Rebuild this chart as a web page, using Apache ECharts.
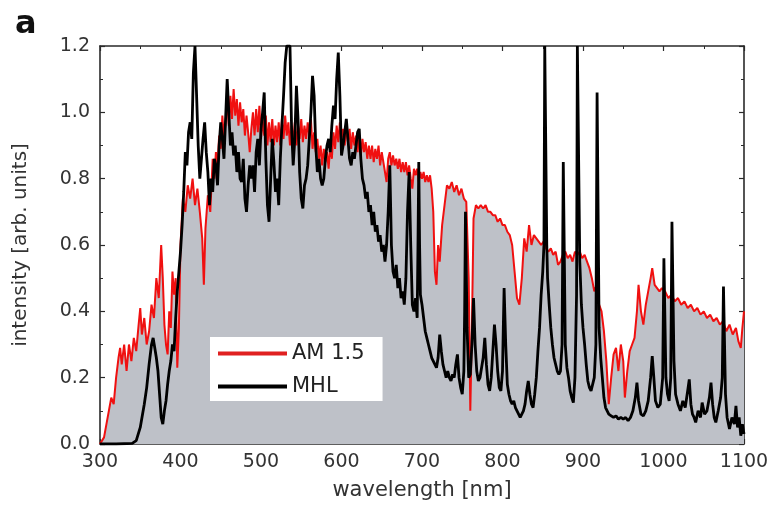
<!DOCTYPE html>
<html>
<head>
<meta charset="utf-8">
<script src="https://cdn.jsdelivr.net/npm/echarts@6/dist/echarts.min.js"></script>
<style>
html,body{margin:0;padding:0;background:#fff;}
#chart{width:774px;height:506px;}
</style>
</head>
<body>
<div id="chart"></div>
<script>
// AM 1.5 solar spectrum [wavelength nm, intensity]
const am15 = [[300,0],[305,0.02],[308,0.06],[311,0.1],[314,0.14],[317,0.12],[320,0.2],[323,0.26],[325,0.29],[327,0.24],[330,0.3],[333,0.22],[336,0.3],[339,0.25],[342,0.32],[345,0.28],[348,0.36],[350,0.41],[352,0.33],[355,0.38],[358,0.3],[361,0.34],[364,0.42],[367,0.38],[370,0.5],[373,0.44],[376,0.6],[378,0.5],[380,0.36],[382,0.3],[384,0.27],[386,0.4],[388,0.35],[390,0.52],[392,0.45],[394,0.5],[396,0.23],[398,0.35],[400,0.6],[403,0.74],[406,0.7],[409,0.78],[412,0.74],[415,0.8],[418,0.72],[421,0.77],[424,0.7],[427,0.62],[429,0.48],[431,0.65],[434,0.75],[437,0.7],
[440,0.86],[442,0.8],[444,0.88],[446,0.84],[448,0.93],[450,0.89],[452,0.99],[454,0.92],[456,0.97],[458,1.04],[460,0.96],[462,1.05],[464,0.98],[466,1.07],[468,0.99],[470,1.04],[472,0.96],[474,1.03],[476,0.97],[478,1.01],[480,0.93],[482,0.99],[484,0.94],[486,0.88],[488,0.95],[490,1.0],[492,0.93],[494,1.01],[496,0.94],[498,1.02],[500,0.92],[502,0.98],[504,0.93],[506,0.99],[508,0.9],[510,0.97],[512,0.91],[514,0.98],[516,0.9],[518,0.96],[520,0.91],[522,0.97],[524,0.9],[526,0.98],[528,0.92],[530,0.99],[532,0.93],[534,0.97],[536,0.9],[538,0.96],[540,0.91],[542,0.97],[544,0.9],[546,0.96],[548,0.92],[550,0.98],[552,0.91],[554,0.96],[556,0.92],[558,0.97],[560,0.93],[562,0.98],[564,0.89],[566,0.94],[568,0.88],[570,0.92],[572,0.86],[574,0.9],[576,0.84],[578,0.89],[580,0.85],[582,0.88],[584,0.83],[586,0.9],[588,0.86],[590,0.94],[592,0.89],[594,0.96],[596,0.91],[598,0.97],[600,0.92],[602,0.95],[604,0.9],[606,0.96],[608,0.91],[610,0.95],[612,0.89],[614,0.94],[616,0.9],[618,0.93],[620,0.88],[622,0.93],[624,0.87],[626,0.92],[628,0.88],[630,0.91],[632,0.86],[634,0.9],[636,0.86],[638,0.9],[640,0.85],[642,0.89],[644,0.86],[646,0.9],[648,0.84],[650,0.88],[652,0.85],[654,0.82],[656,0.79],[658,0.86],[660,0.88],[662,0.84],[664,0.87],[666,0.84],[668,0.86],[670,0.83],[672,0.86],[674,0.82],[676,0.85],[678,0.82],[680,0.85],[682,0.81],[684,0.84],[686,0.8],[688,0.77],[690,0.83],[692,0.81],[694,0.83],[696,0.79],[698,0.82],[700,0.8],[702,0.82],[704,0.79],[706,0.81],[708,0.79],[710,0.81],[712,0.77],[714,0.7],
[716,0.52],[718,0.48],[720,0.6],[722,0.55],[725,0.66],[728,0.72],[731,0.78],[734,0.77],[737,0.79],[740,0.76],[743,0.78],[746,0.75],[749,0.77],[752,0.74],[755,0.73],[758,0.5],[760,0.1],[762,0.35],[764,0.68],[767,0.72],[770,0.71],[773,0.72],[776,0.71],[779,0.72],[782,0.7],[785,0.7],[788,0.69],[791,0.69],[794,0.67],[797,0.68],[800,0.66],[803,0.66],[806,0.64],[809,0.63],[812,0.6],[815,0.52],[818,0.44],[821,0.42],[824,0.5],[827,0.62],[830,0.58],[833,0.66],[836,0.6],[839,0.63],[842,0.62],[845,0.61],[848,0.6],[851,0.61],[854,0.59],[857,0.58],[860,0.59],[863,0.57],[866,0.58],[869,0.54],[872,0.55],[875,0.57],[878,0.58],[881,0.56],[884,0.57],[887,0.55],[890,0.58],[893,0.57],[896,0.58],[899,0.56],[902,0.57],[905,0.55],[908,0.53],[911,0.5],[914,0.46],[917,0.48],[920,0.42],[923,0.4],[926,0.34],[929,0.25],[932,0.12],[935,0.2],[938,0.27],[941,0.29],[944,0.22],[947,0.3],[950,0.25],[952,0.14],[955,0.22],[958,0.28],[961,0.3],[964,0.32],[967,0.4],[969,0.48],[972,0.4],[975,0.36],[978,0.42],[981,0.46],[984,0.5],[986,0.53],[989,0.48],[992,0.47],[995,0.46],[998,0.47],[1002,0.46],[1006,0.44],[1010,0.45],[1014,0.43],[1018,0.44],[1022,0.42],[1026,0.43],[1030,0.41],[1034,0.42],[1038,0.4],[1042,0.41],[1046,0.39],[1050,0.4],[1054,0.38],[1058,0.39],[1062,0.37],[1066,0.38],[1070,0.36],[1074,0.37],[1078,0.34],[1082,0.36],[1086,0.33],[1090,0.35],[1093,0.31],[1096,0.29],[1098,0.35],[1100,0.4]];

// Metal halide lamp spectrum [wavelength nm, intensity]
const mhl = [[300,0],[320,0],[340,0.002],[345,0.01],[350,0.05],[355,0.12],[358,0.17],[361,0.24],[364,0.3],[366,0.32],[368,0.29],[370,0.26],[372,0.22],[374,0.15],[376,0.08],[378,0.06],[380,0.1],[382,0.13],[384,0.18],[386,0.22],[388,0.25],[390,0.3],[392,0.28],[394,0.38],[396,0.46],[398,0.52],[400,0.58],[402,0.66],[404,0.76],[406,0.88],[408,0.84],[410,0.94],[412,0.97],[414,0.92],[416,1.12],[418,1.2],[420,1.2],[422,0.9],[424,0.8],[426,0.86],[428,0.92],[430,0.97],[432,0.88],[434,0.82],[436,0.72],[438,0.8],[440,0.76],[442,0.86],[444,0.84],[446,0.78],[448,0.9],[450,0.97],[452,0.92],[454,0.86],[456,0.98],[458,1.1],[460,1.0],[462,0.9],[464,0.94],[466,0.87],[468,0.9],[470,0.82],[472,0.88],[474,0.8],[476,0.79],[478,0.86],[480,0.74],[482,0.7],[484,0.78],[486,0.84],[488,0.8],[490,0.84],[492,0.76],[494,0.88],[496,0.92],[498,0.84],[500,0.95],[502,1.0],[504,1.06],[506,0.86],[508,0.72],[510,0.67],[512,0.8],[514,0.92],[516,0.85],[518,0.76],[520,0.8],[522,0.72],[524,0.86],[526,0.96],[528,1.05],[530,1.15],[532,1.2],[534,1.2],[536,1.2],[538,0.95],[540,0.84],[542,0.92],[544,1.08],[546,0.98],[548,0.82],[550,0.74],[552,0.71],[554,0.78],[556,0.8],[558,0.84],[560,0.92],[562,1.0],[564,1.11],[566,1.05],[568,0.9],[570,0.82],[572,0.86],[574,0.8],[576,0.78],[578,0.8],[580,0.86],[582,0.9],[584,0.92],[586,0.88],[588,0.96],[590,1.02],[592,0.98],[594,1.1],[596,1.18],[598,1.05],[600,0.87],[602,0.9],[604,0.94],[606,0.98],[608,0.92],[610,0.86],[612,0.84],[614,0.88],[616,0.86],[618,0.9],[620,0.94],[622,0.95],[624,0.86],[626,0.8],[628,0.78],[630,0.74],[632,0.76],[634,0.7],[636,0.72],[638,0.66],[640,0.7],[642,0.64],[644,0.66],[646,0.61],[648,0.63],[650,0.58],[652,0.6],[654,0.55],[656,0.6],[658,0.7],[660,0.84],[662,0.6],[664,0.52],[666,0.5],[668,0.54],[670,0.47],[672,0.5],[674,0.44],[676,0.46],[678,0.42],[680,0.5],[682,0.7],[684,0.82],[686,0.6],[688,0.42],[690,0.4],[692,0.44],[694,0.38],[695,0.6],[696,0.85],[697,0.6],[698,0.45],[700,0.42],[702,0.38],[704,0.34],[706,0.32],[708,0.3],[710,0.28],[712,0.26],[714,0.25],[716,0.24],[718,0.23],[720,0.26],[722,0.33],[724,0.28],[726,0.24],[728,0.22],[730,0.2],[732,0.22],[734,0.2],[736,0.19],[738,0.21],[740,0.2],[742,0.24],[744,0.27],[746,0.2],[748,0.17],[750,0.15],[752,0.22],[753,0.4],[754,0.7],[755,0.7],[756,0.35],[758,0.2],[760,0.21],[762,0.3],[764,0.44],[766,0.3],[768,0.22],[770,0.19],[772,0.2],[774,0.23],[776,0.26],[778,0.32],[780,0.24],[782,0.18],[784,0.16],[786,0.2],[788,0.28],[790,0.36],[792,0.3],[794,0.22],[796,0.17],[798,0.16],[800,0.22],[801,0.35],[802,0.47],[803,0.47],[804,0.3],[806,0.18],[808,0.15],[810,0.13],[812,0.12],[814,0.13],[816,0.11],[818,0.1],[820,0.09],[822,0.08],[824,0.085],[826,0.1],[828,0.12],[830,0.16],[832,0.19],[834,0.15],[836,0.12],[838,0.11],[840,0.15],[842,0.2],[844,0.28],[846,0.35],[848,0.45],[850,0.52],[851.5,0.6],[852.5,1.2],[854,1.2],[855,0.6],[856,0.5],[858,0.42],[860,0.35],[862,0.3],[864,0.26],[866,0.24],[868,0.22],[870,0.21],[872,0.22],[874,0.3],[875.5,0.85],[876.5,0.85],[878,0.3],[880,0.23],[882,0.2],[884,0.16],[886,0.14],[888,0.125],[890,0.2],[892,0.45],[893,1.2],[895,1.2],[896,0.55],[898,0.42],[900,0.35],[902,0.3],[904,0.24],[906,0.19],[908,0.17],[910,0.16],[912,0.155],[914,0.2],[916,0.3],[917.5,1.06],[918.5,1.06],[920,0.35],[922,0.26],[924,0.2],[926,0.14],[928,0.11],[930,0.1],[932,0.09],[935,0.085],[938,0.08],[941,0.085],[944,0.075],[947,0.08],[950,0.075],[953,0.08],[956,0.07],[959,0.08],[962,0.1],[965,0.14],[967,0.185],[969,0.13],[972,0.09],[975,0.085],[978,0.1],[981,0.13],[984,0.2],[986,0.265],[988,0.2],[990,0.13],[993,0.11],[996,0.12],[999,0.2],[1000.5,0.56],[1001.5,0.56],[1003,0.2],[1005,0.15],[1007,0.13],[1009,0.2],[1010.5,0.67],[1011.5,0.67],[1013,0.25],[1015,0.15],[1018,0.12],[1021,0.1],[1024,0.13],[1027,0.11],[1030,0.16],[1032,0.195],[1034,0.12],[1036,0.09],[1038,0.08],[1040,0.065],[1043,0.1],[1046,0.08],[1048,0.125],[1051,0.09],[1054,0.1],[1057,0.14],[1059,0.185],[1061,0.12],[1063,0.08],[1065,0.065],[1068,0.1],[1071,0.14],[1073,0.2],[1074.5,0.475],[1075.5,0.475],[1077,0.15],[1079,0.08],[1082,0.045],[1085,0.08],[1088,0.06],[1090,0.115],[1092,0.05],[1094,0.08],[1096,0.025],[1098,0.06],[1100,0.03]];

const seriesNames = ['AM 1.5', 'MHL'];
const xRange = [300, 1100];
const yRange = [0, 1.2];

const FONT = 'DejaVu Sans';
const axisLineStyle = { color: '#2a2a2a', width: 1.6 };
function xAx(pos, labels) {
  return {
    type: 'value', position: pos, min: xRange[0], max: xRange[1], interval: 100,
    axisLine: { show: true, onZero: false, lineStyle: axisLineStyle },
    axisTick: { show: true, inside: true, length: 5, lineStyle: { color: '#2a2a2a', width: 1.2 } },
    minorTick: { show: true, splitNumber: 2, length: 3, lineStyle: { color: '#2a2a2a', width: 1 } },
    splitLine: { show: false },
    axisLabel: { show: labels, fontFamily: FONT, fontSize: 19, color: '#333', margin: 9,
      formatter: v => String(v) },
    name: labels ? 'wavelength [nm]' : '', nameLocation: 'middle', nameGap: 36,
    nameTextStyle: { fontFamily: FONT, fontSize: 21, color: '#333' }
  };
}
function yAx(pos, labels) {
  return {
    type: 'value', position: pos, min: yRange[0], max: yRange[1], interval: 0.2,
    axisLine: { show: true, onZero: false, lineStyle: axisLineStyle },
    axisTick: { show: true, inside: true, length: 5, lineStyle: { color: '#2a2a2a', width: 1.2 } },
    minorTick: { show: true, splitNumber: 2, length: 3, lineStyle: { color: '#2a2a2a', width: 1 } },
    splitLine: { show: false },
    axisLabel: { show: labels, fontFamily: FONT, fontSize: 19, color: '#333', margin: 10,
      formatter: v => v.toFixed(1) },
    name: labels ? 'intensity [arb. units]' : '', nameLocation: 'middle', nameGap: 69,
    nameTextStyle: { fontFamily: FONT, fontSize: 20, color: '#333' }
  };
}

const chart = echarts.init(document.getElementById('chart'), null, { renderer: 'canvas' });
chart.setOption({
  animation: false,
  backgroundColor: '#fff',
  grid: { left: 100, right: 30, top: 46, bottom: 61, containLabel: false },
  xAxis: [xAx('bottom', true), xAx('top', false)],
  yAxis: [yAx('left', true), yAx('right', false)],
  legend: {
    orient: 'vertical', left: 210, top: 337,
    padding: [6, 18, 4, 8], backgroundColor: '#fff',
    itemWidth: 69, itemHeight: 4, itemGap: 12, itemTextGap: 11,
    textStyle: { fontFamily: FONT, fontSize: 21, color: '#222', lineHeight: 20 },
    data: [{ name: seriesNames[0], icon: 'rect' }, { name: seriesNames[1], icon: 'rect' }],
    z: 10
  },
  graphic: [{
    type: 'text', left: 15, top: 9,
    style: { text: 'a', font: 'bold 32px "DejaVu Sans"', fill: '#111' }
  }],
  series: [
    {
      name: seriesNames[0], type: 'line', data: am15, symbol: 'none', showSymbol: false,
      xAxisIndex: 0, yAxisIndex: 0, clip: true, z: 2,
      lineStyle: { color: '#f01010', width: 2 },
      itemStyle: { color: '#e02020' },
      areaStyle: { color: '#bec1c8', opacity: 1 }
    },
    {
      name: seriesNames[1], type: 'line', data: mhl, symbol: 'none', showSymbol: false,
      xAxisIndex: 0, yAxisIndex: 0, clip: true, z: 3,
      lineStyle: { color: '#000', width: 2.8 },
      itemStyle: { color: '#000' }
    }
  ]
});
</script>
</body>
</html>
